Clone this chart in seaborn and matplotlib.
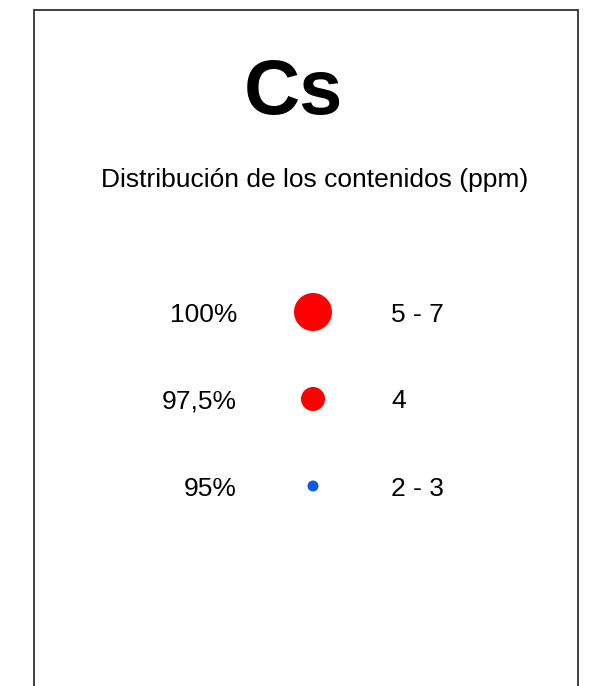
import matplotlib
matplotlib.use("Agg")
import matplotlib.pyplot as plt
import seaborn as sns
import pandas as pd
from matplotlib.patches import Rectangle

# ---------------- DATA ----------------
element = "Cs"
subtitle = "Distribución de los contenidos (ppm)"
percentiles = ["100%", "97,5%", "95%"]
ranges = ["5 - 7", "4", "2 - 3"]
marker_area = [750, 300, 63]
colors = ["#ff0000", "#ff0000", "#0a5ae6"]

df = pd.DataFrame({"pct": percentiles, "rng": ranges, "area": marker_area,
                   "row": range(len(percentiles))})

# ---------------- STYLE ----------------
sns.set_theme(style="white")
plt.rcParams["font.family"] = ["Liberation Sans", "DejaVu Sans"]
plt.rcParams["text.color"] = "black"

W, H = 610, 686
fig = plt.figure(figsize=(W / 100, H / 100), dpi=100)
fig.patch.set_facecolor("white")

# frame (open at the bottom, runs past the image edge)
fig.add_artist(Rectangle((34 / W, -0.05), (578 - 34) / W, 1.05 - 10 / H,
                         transform=fig.transFigure, fill=False,
                         edgecolor="#333333", lw=1.3))

fig.text(293 / W, 1 - 114 / H, element, ha="center", va="baseline",
         fontsize=56, fontweight="bold", color="black")
fig.text(315 / W, 1 - 187 / H, subtitle, ha="center", va="baseline",
         fontsize=19, color="black")

# rows axis: x in pixel columns, y in row index
ax = fig.add_axes([0, 0, 1, 1])
ax.set_xlim(0, W)
step = 87
ax.set_ylim((H - 312) / step, -312 / step)
ax.axis("off")

x_marker = 313
sns.scatterplot(data=df, x=[x_marker] * len(df), y="row", hue="pct", size="pct",
                palette=dict(zip(percentiles, colors)),
                sizes=dict(zip(percentiles, marker_area)),
                linewidth=0, legend=False, ax=ax)

base = 9.5 / step  # text baseline below the row centre
for _, r in df.iterrows():
    ax.text(237, r["row"] + base, r["pct"], ha="right", va="baseline",
            fontsize=19, color="black")
    ax.text(391, r["row"] + base, r["rng"], ha="left", va="baseline",
            fontsize=19, color="black")

fig.savefig("out.png", dpi=100)
